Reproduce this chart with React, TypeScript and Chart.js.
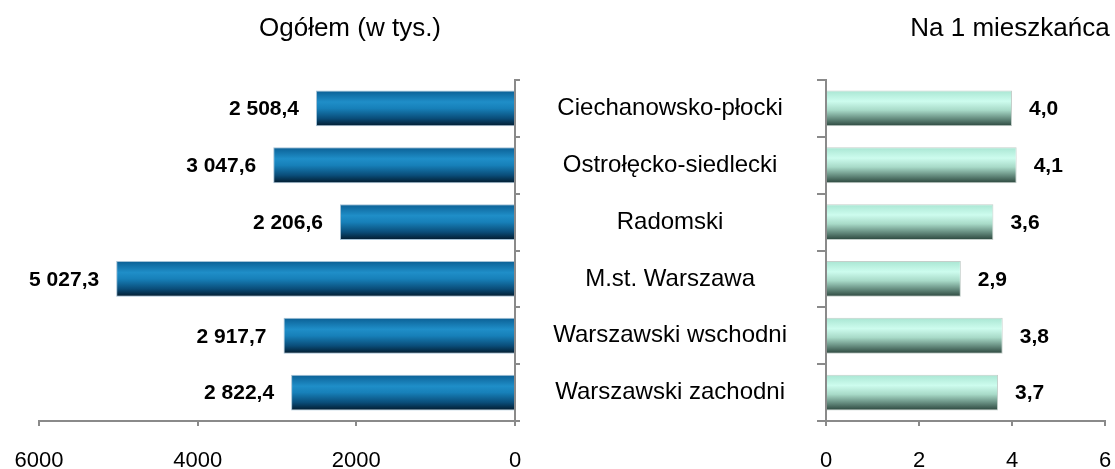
import React, { useEffect, useRef } from 'react';
import { Chart, registerables } from 'chart.js';

Chart.register(...registerables);

const categories = [
  'Ciechanowsko-płocki',
  'Ostrołęcko-siedlecki',
  'Radomski',
  'M.st. Warszawa',
  'Warszawski wschodni',
  'Warszawski zachodni',
];
const totalValues = [2508.4, 3047.6, 2206.6, 5027.3, 2917.7, 2822.4];
const perCapitaValues = [4.0, 4.1, 3.6, 2.9, 3.8, 3.7];
const totalTicks = [0, 2000, 4000, 6000];
const perCapitaTicks = [0, 2, 4, 6];
const leftTitle = 'Ogółem (w tys.)';
const rightTitle = 'Na 1 mieszkańca';

const FONT = '"Liberation Sans", Arial, Helvetica, sans-serif';
const AXIS = '#8a8a8a';
const BAR_PCT = 0.63;

const blueStops: [number, string][] = [
  [0, '#0b5f94'],
  [0.32, '#1f8ec8'],
  [0.5, '#1780b9'],
  [0.78, '#0a4d79'],
  [1, '#021a2c'],
];
const mintStops: [number, string][] = [
  [0, '#a9e6d3'],
  [0.3, '#cdfcee'],
  [0.55, '#a8dac8'],
  [0.8, '#62887b'],
  [1, '#2a443b'],
];

function fmt(v: number): string {
  return v
    .toFixed(1)
    .replace('.', ',')
    .replace(/\B(?=(\d{3})+(?!\d))/g, ' ');
}

function barGradient(stops: [number, string][]) {
  return (c: any) => {
    const chart = c.chart;
    const ys = chart.scales && chart.scales.y;
    const area = chart.chartArea;
    if (!area || !ys || c.dataIndex === undefined) return stops[1][1];
    const yc = ys.getPixelForValue(c.dataIndex);
    const h = ((area.bottom - area.top) / categories.length) * BAR_PCT;
    const g = chart.ctx.createLinearGradient(0, yc - h / 2, 0, yc + h / 2);
    stops.forEach(([o, col]) => g.addColorStop(o, col));
    return g;
  };
}

function valueLabels(side: 'left' | 'right') {
  return {
    id: 'valueLabels' + side,
    afterDatasetsDraw(chart: any) {
      const meta = chart.getDatasetMeta(0);
      const data = chart.data.datasets[0].data as number[];
      const ctx = chart.ctx;
      ctx.save();
      ctx.font = `bold 21px ${FONT}`;
      ctx.fillStyle = '#000';
      ctx.textBaseline = 'middle';
      ctx.textAlign = side === 'left' ? 'right' : 'left';
      meta.data.forEach((bar: any, i: number) => {
        const x = side === 'left' ? bar.x - 17 : bar.x + 17;
        ctx.fillText(fmt(data[i]), x, bar.y + 1);
      });
      ctx.restore();
    },
  };
}

const noScalePadding = (s: any, h: number) => {
  s.height = h;
  s.paddingLeft = 0;
  s.paddingRight = 0;
};

export default function App() {
  const leftRef = useRef<HTMLCanvasElement>(null);
  const rightRef = useRef<HTMLCanvasElement>(null);

  useEffect(() => {
    const left = new Chart(leftRef.current!, {
      type: 'bar',
      data: {
        labels: categories,
        datasets: [
          {
            data: totalValues,
            backgroundColor: barGradient(blueStops) as any,
            borderColor: '#a5c2d6',
            borderWidth: { top: 1, bottom: 1, left: 1, right: 0 } as any,
            borderSkipped: false as any,
            barPercentage: BAR_PCT,
            categoryPercentage: 1,
          },
        ],
      },
      options: {
        indexAxis: 'y',
        responsive: false,
        animation: false,
        layout: { padding: { top: 80, left: 39, right: 0, bottom: 0 } },
        plugins: { legend: { display: false }, tooltip: { enabled: false } },
        scales: {
          x: {
            reverse: true,
            min: 0,
            max: 6000,
            afterBuildTicks: (s: any) => {
              s.ticks = totalTicks.map((v) => ({ value: v }));
            },
            ticks: {
              callback: (v: any) => String(v),
              font: { family: FONT, size: 22 },
              color: '#000',
              padding: 22,
              maxRotation: 0,
            },
            grid: { drawOnChartArea: false, drawTicks: true, tickLength: 5, color: AXIS, lineWidth: 2 },
            border: { color: AXIS, width: 2 },
            afterFit: (s: any) => noScalePadding(s, 48),
          },
          y: {
            position: 'right',
            ticks: { display: false },
            grid: { offset: true, drawOnChartArea: false, drawTicks: true, tickLength: 5, color: AXIS, lineWidth: 2 },
            border: { color: AXIS, width: 2 },
            afterFit: (s: any) => {
              s.width = 25;
            },
          },
        },
      },
      plugins: [valueLabels('left')],
    } as any);

    const right = new Chart(rightRef.current!, {
      type: 'bar',
      data: {
        labels: categories,
        datasets: [
          {
            data: perCapitaValues,
            backgroundColor: barGradient(mintStops) as any,
            borderColor: '#c4cfca',
            borderWidth: { top: 1, bottom: 1, left: 0, right: 1 } as any,
            borderSkipped: false as any,
            barPercentage: BAR_PCT,
            categoryPercentage: 1,
          },
        ],
      },
      options: {
        indexAxis: 'y',
        responsive: false,
        animation: false,
        layout: { padding: { top: 80, left: 0, right: 10, bottom: 0 } },
        plugins: { legend: { display: false }, tooltip: { enabled: false } },
        scales: {
          x: {
            min: 0,
            max: 6,
            afterBuildTicks: (s: any) => {
              s.ticks = perCapitaTicks.map((v) => ({ value: v }));
            },
            ticks: {
              callback: (v: any) => String(v),
              font: { family: FONT, size: 22 },
              color: '#000',
              padding: 22,
              maxRotation: 0,
            },
            grid: { drawOnChartArea: false, drawTicks: true, tickLength: 5, color: AXIS, lineWidth: 2 },
            border: { color: AXIS, width: 2 },
            afterFit: (s: any) => noScalePadding(s, 48),
          },
          y: {
            position: 'left',
            ticks: {
              font: { family: FONT, size: 24 },
              color: '#000',
              crossAlign: 'center',
              padding: 30,
            },
            grid: { offset: true, drawOnChartArea: false, drawTicks: true, tickLength: 9, color: AXIS, lineWidth: 2 },
            border: { color: AXIS, width: 2 },
            afterFit: (s: any) => {
              s.width = 286;
            },
          },
        },
      },
      plugins: [valueLabels('right')],
    } as any);

    return () => {
      left.destroy();
      right.destroy();
    };
  }, []);

  const titleStyle: React.CSSProperties = {
    position: 'absolute',
    top: 12,
    width: 300,
    textAlign: 'center',
    font: `26px ${FONT}`,
    lineHeight: '30px',
    color: '#000',
    whiteSpace: 'nowrap',
  };

  return (
    <div
      style={{
        position: 'absolute',
        left: 0,
        top: 0,
        width: 1115,
        height: 469,
        overflow: 'hidden',
        background: '#fff',
      }}
    >
      <canvas
        ref={leftRef}
        width={540}
        height={469}
        style={{ position: 'absolute', left: 0, top: 0, width: 540, height: 469 }}
      />
      <canvas
        ref={rightRef}
        width={575}
        height={469}
        style={{ position: 'absolute', left: 540, top: 0, width: 575, height: 469 }}
      />
      <div style={{ ...titleStyle, left: 200 }}>{leftTitle}</div>
      <div style={{ ...titleStyle, left: 860 }}>{rightTitle}</div>
    </div>
  );
}
